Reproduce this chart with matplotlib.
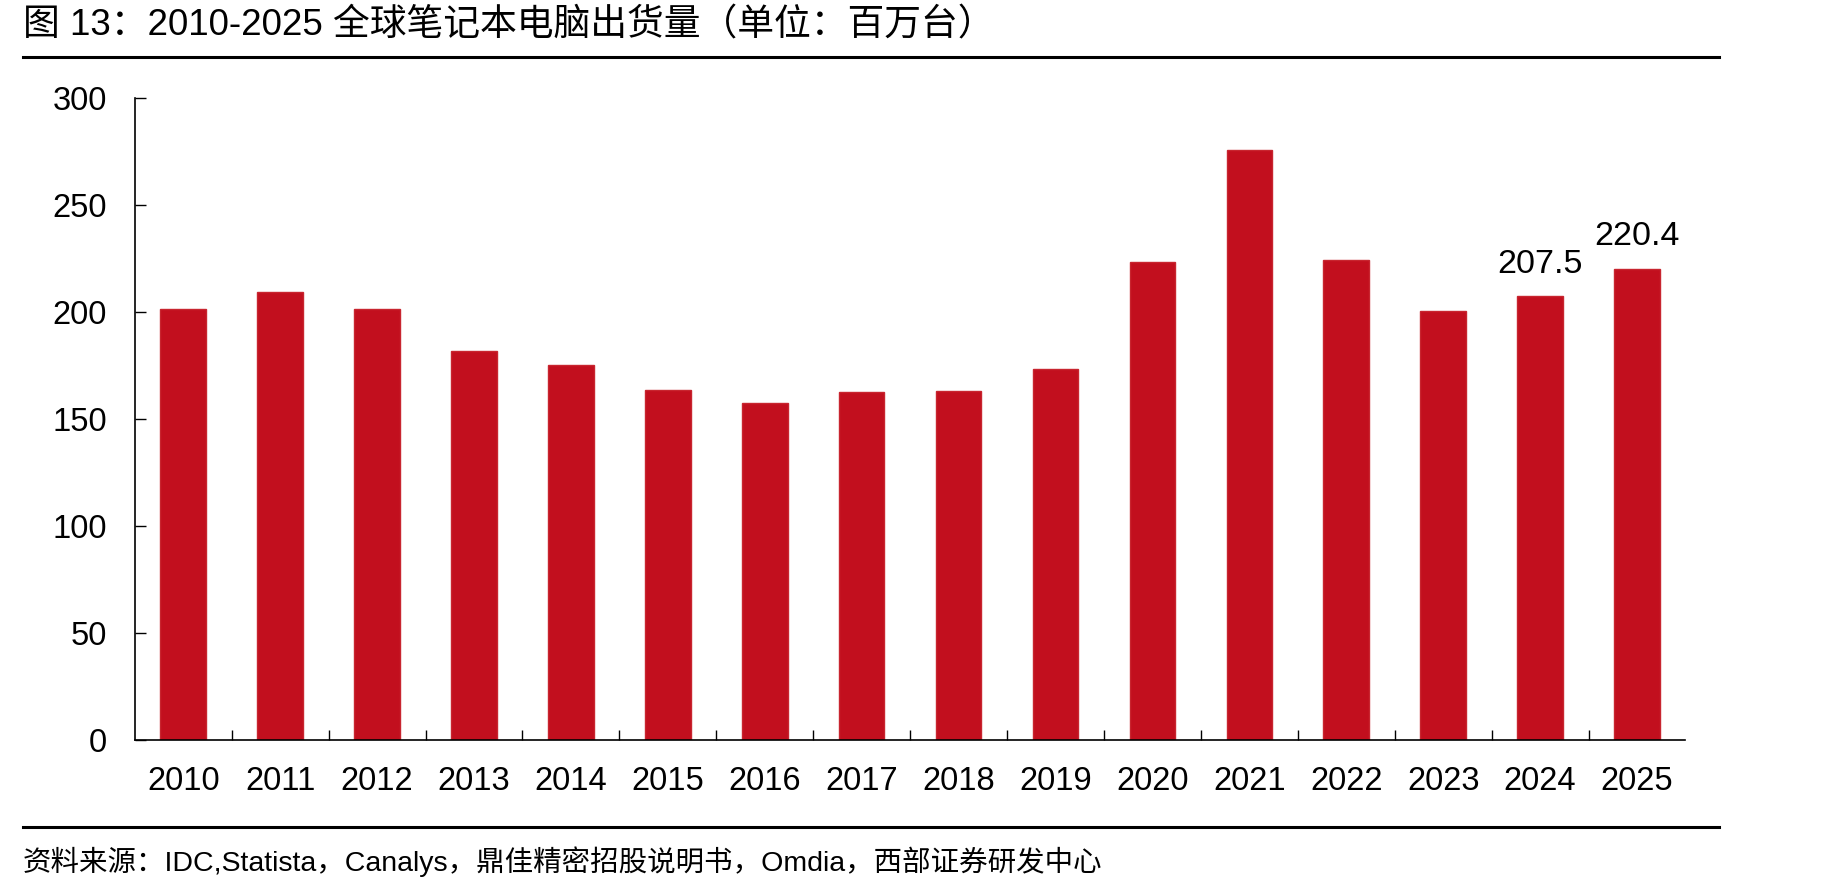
import numpy as np
import matplotlib.pyplot as plt
from matplotlib.lines import Line2D

plt.rcParams['font.family'] = ['Liberation Sans', 'Noto Sans CJK SC', 'DejaVu Sans']

years = ['2010', '2011', '2012', '2013', '2014', '2015', '2016', '2017',
         '2018', '2019', '2020', '2021', '2022', '2023', '2024', '2025']
shipments = [201.5, 209.7, 201.5, 181.8, 175.2, 163.7, 157.7, 162.7,
             163.2, 173.6, 223.4, 276.0, 224.5, 200.4, 207.5, 220.4]
labelled = ['2024', '2025']

title = '图 13：2010-2025 全球笔记本电脑出货量（单位：百万台）'
source = '资料来源：IDC,Statista，Canalys，鼎佳精密招股说明书，Omdia，西部证券研发中心'

bar_color = '#C20F1E'

fig = plt.figure(figsize=(18.36, 8.92), dpi=100)
ax = fig.add_axes([0.0734, 0.1704, 0.8446, 0.7193])

x = np.arange(len(years))
ax.bar(x, shipments, width=0.47, color=bar_color, edgecolor='#C8252F',
       linewidth=1.0, zorder=2)

for i, (yr, v) in enumerate(zip(years, shipments)):
    if yr in labelled:
        ax.annotate(f'{v:.1f}', (i, v), xytext=(0, 12), textcoords='offset points',
                    ha='center', va='bottom', fontsize=24.5)

ax.set_xlim(-0.5, len(years) - 0.5)
ax.set_ylim(0, 300)
ax.set_yticks(np.arange(0, 301, 50))
ax.set_xticks(x)
ax.set_xticklabels(years)
ax.set_xticks(np.arange(0.5, len(years) - 0.5, 1), minor=True)
ax.tick_params(axis='x', which='major', length=0, pad=19, labelsize=23.5)
ax.tick_params(axis='x', which='minor', direction='in', length=7, width=1)
ax.tick_params(axis='y', direction='in', length=8, width=1, pad=20, labelsize=23.5)

for s in ['top', 'right']:
    ax.spines[s].set_visible(False)
for s in ['left', 'bottom']:
    ax.spines[s].set_linewidth(1.2)

fig.text(23 / 1836, 1 - 26 / 892, title, fontsize=26.5, va='center', ha='left')
fig.add_artist(Line2D([23 / 1836, 1719 / 1836], [1 - 57 / 892, 1 - 57 / 892],
                      color='black', lw=2.2, transform=fig.transFigure))
fig.add_artist(Line2D([23 / 1836, 1719 / 1836], [1 - 827 / 892, 1 - 827 / 892],
                      color='black', lw=2.2, transform=fig.transFigure))
fig.text(23 / 1836, 1 - 862 / 892, source, fontsize=20.5, va='center', ha='left')

fig.savefig('out.png', dpi=100)
